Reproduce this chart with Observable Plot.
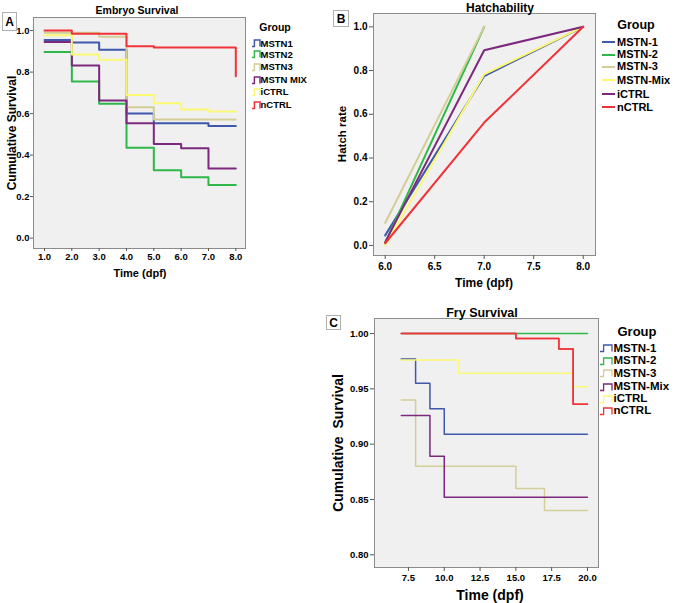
<!DOCTYPE html>
<html><head><meta charset="utf-8">
<script src="https://cdn.jsdelivr.net/npm/d3@7"></script>
<script src="https://cdn.jsdelivr.net/npm/@observablehq/plot@0.6"></script>
<style>
body{margin:0;background:#fff;}
#root{position:relative;width:675px;height:603px;overflow:hidden;font-family:"Liberation Sans",Arial,sans-serif;font-weight:bold;color:#000;background:#fff;}
.t{position:absolute;white-space:pre;line-height:1;}
.c{transform:translate(-50%,-50%);}
.r{transform:translate(-50%,-50%) rotate(-90deg);}
.box{position:absolute;border:1px solid #b0b0b0;background:#fff;display:flex;align-items:center;justify-content:center;font-size:12px;line-height:1;}
.plotwrap{position:absolute;}
</style></head><body><div id="root"></div>
<script>
// ---------- Data ----------
const blue="#3E58AC", green="#2EB848", tan="#D3CE97", purple="#7C287D", yellow="#FBF873", red="#EF3338";

// Panel A: Embryo Survival (step values at day 1..8)
const groupsA = ["MSTN1","MSTN2","MSTN3","MSTN MIX","iCTRL","nCTRL"];
const colorsA = [blue,green,tan,purple,yellow,red];
const timesA = [1,2,3,4,5,6,7,8];
const mstn1A = [0.955,0.943,0.908,0.600,0.553,0.553,0.540,0.540];
const mstn2A = [0.897,0.755,0.647,0.435,0.327,0.293,0.256,0.256];
const mstn3A = [0.990,0.990,0.970,0.630,0.572,0.572,0.572,0.572];
const mixA   = [0.945,0.832,0.663,0.553,0.454,0.433,0.335,0.335];
const ictrlA = [0.978,0.885,0.860,0.690,0.650,0.620,0.610,0.610];
const nctrlA = [1.000,0.985,0.985,0.925,0.918,0.918,0.918,0.780];
const ticksAx = [1,2,3,4,5,6,7,8];
const ticksAy = [0,0.2,0.4,0.6,0.8,1.0];

// Panel B: Hatchability
const groupsB = ["MSTN-1","MSTN-2","MSTN-3","MSTN-Mix","iCTRL","nCTRL"];
const colorsB = [blue,green,tan,yellow,purple,red];
const daysB = [6,7,8];
const mstn1B = [0.046,0.775,1.0];
const mstn2B = [0.012,1.0,null];
const mstn3B = [0.103,1.0,null];
const mixB   = [0.0,0.783,1.0];
const ictrlB = [0.015,0.893,1.0];
const nctrlB = [0.010,0.562,1.0];
const ticksBx = [6,6.5,7,7.5,8];
const ticksBy = [0,0.2,0.4,0.6,0.8,1.0];

// Panel C: Fry Survival (step change times and values)
const groupsC = ["MSTN-1","MSTN-2","MSTN-3","MSTN-Mix","iCTRL","nCTRL"];
const colorsC = [blue,green,tan,purple,yellow,red];
const mstn1Ct = [7,8,9,10,20],      mstn1Cv = [0.977,0.955,0.932,0.909,0.909];
const mstn2Ct = [7,20],             mstn2Cv = [1.0,1.0];
const mstn3Ct = [7,8,15,17,20],     mstn3Cv = [0.940,0.880,0.860,0.840,0.840];
const mixCt   = [7,9,10,20],        mixCv   = [0.926,0.889,0.852,0.852];
const ictrlCt = [7,11,19,20],       ictrlCv = [0.976,0.964,0.952,0.952];
const nctrlCt = [7,15,18,19,20],    nctrlCv = [1.0,0.9955,0.986,0.936,0.936];
const ticksCx = [7.5,10,12.5,15,17.5,20];
const ticksCy = [0.80,0.85,0.90,0.95,1.00];

// ---------- Tables ----------
const seriesA = [mstn1A,mstn2A,mstn3A,mixA,ictrlA,nctrlA];
const tableA = groupsA.flatMap((g,i)=>timesA.map((t,j)=>({group:g,time:t,value:seriesA[i][j]})));
const seriesB = [mstn1B,mstn2B,mstn3B,mixB,ictrlB,nctrlB];
const tableB = groupsB.flatMap((g,i)=>daysB.map((t,j)=>({group:g,time:t,value:seriesB[i][j]}))).filter(d=>d.value!=null);
const seriesC = [[mstn1Ct,mstn1Cv],[mstn2Ct,mstn2Cv],[mstn3Ct,mstn3Cv],[mixCt,mixCv],[ictrlCt,ictrlCv],[nctrlCt,nctrlCv]];
const tableC = groupsC.flatMap((g,i)=>seriesC[i][0].map((t,j)=>({group:g,time:t,value:seriesC[i][1][j]})));

const root = document.getElementById("root");
const font = '"Liberation Sans", Arial, sans-serif';

function place(node, left, top){
  const w = document.createElement("div");
  w.className = "plotwrap"; w.style.left = left+"px"; w.style.top = top+"px";
  w.appendChild(node); root.appendChild(w);
}
function text(str, x, y, size, cls="c"){
  const d = document.createElement("div");
  d.className = "t "+cls; d.textContent = str;
  d.style.left = x+"px"; d.style.top = y+"px"; d.style.fontSize = size+"px";
  root.appendChild(d);
}
function box(str, x0, y0, w, h){
  const d = document.createElement("div");
  d.className = "box"; d.textContent = str;
  d.style.left = x0+"px"; d.style.top = y0+"px"; d.style.width = w+"px"; d.style.height = h+"px";
  root.appendChild(d);
}
function legend(title, titleX, titleY, titleSize, labels, cols, ys, gx, gw, tx, size, kind, sw){
  text(title, titleX, titleY, titleSize);
  labels.forEach((lab,i)=>{
    const s = document.createElementNS("http://www.w3.org/2000/svg","svg");
    s.setAttribute("width", gw+2); s.setAttribute("height", 10);
    s.style.position="absolute"; s.style.left=(gx-1)+"px"; s.style.top=(ys[i]-5)+"px"; s.style.overflow="visible";
    const p = document.createElementNS("http://www.w3.org/2000/svg","path");
    if(kind==="step") p.setAttribute("d", `M1,8.5 H${1+gw*0.3} V2 H${1+gw} V8.5`);
    else p.setAttribute("d", `M1,5 H${1+gw}`);
    p.setAttribute("fill","none"); p.setAttribute("stroke",cols[i]); p.setAttribute("stroke-width",sw);
    s.appendChild(p); root.appendChild(s);
    text(lab, tx, ys[i]-size*0.5, size, "l");
  });
}

function panel(opts){
  const lineOpts = {x: "time", y: "value", z: "group", stroke: "group", curve: opts.curve, strokeWidth: opts.sw};
  const marks = [
    Plot.frame({fill: "#f0f0f0", stroke: "#8c8c8c"}),
    Plot.axisX({ticks: opts.xt, tickFormat: d3.format(opts.xf), tickSize: opts.ts, tickPadding: opts.tp, label: null, fontSize: opts.fs, fontWeight: "bold", stroke: "#555"}),
    Plot.axisY({ticks: opts.yt, tickFormat: d3.format(opts.yf), tickSize: opts.ts, tickPadding: opts.tpy, label: null, fontSize: opts.fs, fontWeight: "bold", stroke: "#555"}),
    Plot.line(opts.data, lineOpts)
  ];
  if (opts.topGroup) marks.push(Plot.line(opts.data.filter(d => d.group === opts.topGroup), lineOpts));
  return Plot.plot({
    width: opts.width, height: opts.height,
    marginLeft: opts.ml, marginRight: opts.mr, marginTop: opts.mt, marginBottom: opts.mb,
    x: {domain: opts.xd}, y: {domain: opts.yd},
    color: {domain: opts.groups, range: opts.colors},
    style: {fontFamily: font, fontSize: opts.fs+"px", fontWeight: "bold", background: "transparent", overflow: "visible"},
    marks
  });
}

// ---------- Panel A ----------
place(panel({width:255,height:285,ml:33,mr:10,mt:17,mb:37,xd:[0.597,8.355],yd:[-0.05,1.063],
  groups:groupsA,colors:colorsA,xt:ticksAx,yt:ticksAy,xf:".1f",yf:".1f",ts:3,tp:2,tpy:1,fs:9.5,data:tableA,curve:"step-after",sw:2}),0,0);
text("Embryo Survival",137,10,10.5);
text("Time (dpf)",140,273,11);
text("Cumulative Survival",12,133,12,"r");
box("A",2,12,13,17);
legend("Group",275,27,10.5,groupsA,colorsA,[43.3,54.3,66.7,79.5,92,104.5],252,8,260.5,9.5,"step",1.5);

// ---------- Panel B ----------
place(panel({width:275,height:290,ml:43,mr:10,mt:13,mb:35,xd:[5.882,8.124],yd:[-0.046,1.061],
  groups:groupsB,colors:colorsB,xt:ticksBx,yt:ticksBy,xf:".1f",yf:".1f",ts:4,tp:3,tpy:2,fs:10,data:tableB,curve:"linear",sw:2}),330,0);
text("Hatchability",500,8,12);
text("Time (dpf)",484,283,12);
text("Hatch rate",343,134,11.5,"r");
box("B",333,10,14,15);
legend("Group",636,25,12.5,groupsB,colorsB,[42.3,54.5,66.8,80,94.3,107.3],602,13,617,11,"line",2);

// ---------- Panel C ----------
place(panel({width:278,height:303,ml:44,mr:10,mt:18,mb:36,xd:[5.13,20.77],yd:[0.7885,1.0136],
  groups:groupsC,colors:colorsC,xt:ticksCx,yt:ticksCy,xf:".1f",yf:".2f",ts:4,tp:3,tpy:2,fs:9.5,data:tableC,curve:"step-after",sw:1.5,topGroup:"nCTRL"}),330,300);
text("Fry Survival",482,313,12.5);
text("Time (dpf)",490,595,14);
text("Cumulative  Survival",338,443,14,"r");
box("C",326,315,13,13);
legend("Group",637,331,13,groupsC,colorsC,[348.3,361,373.3,386.7,399,411],600,12,613.5,11.5,"step",1.3);
</script></body></html>
